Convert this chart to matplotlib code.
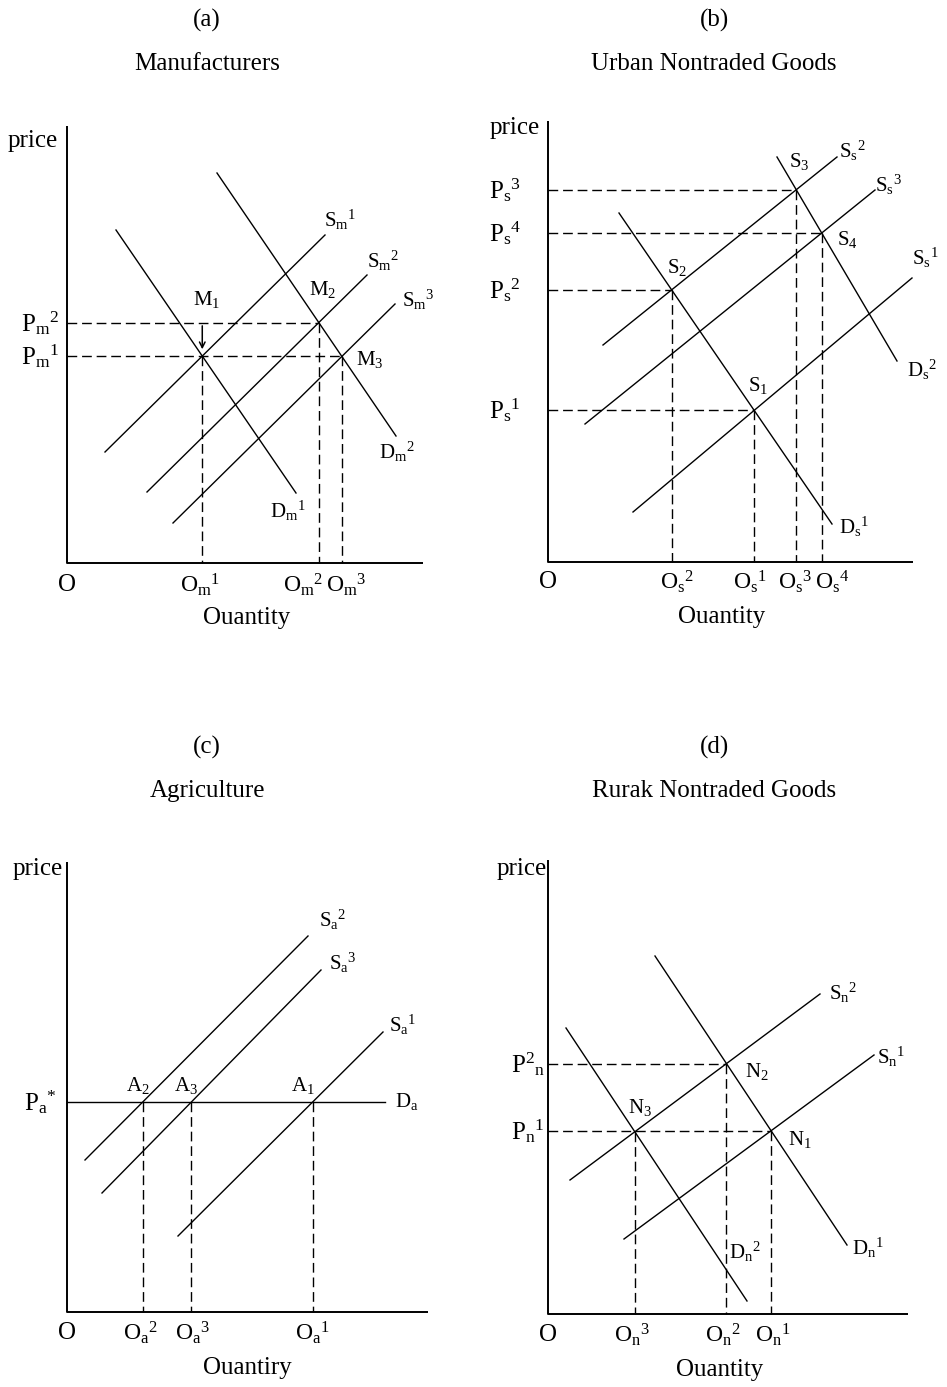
import numpy as np
import matplotlib.pyplot as plt

plt.rcParams['font.family'] = ['Liberation Serif', 'DejaVu Serif']
plt.rcParams['mathtext.fontset'] = 'custom'
plt.rcParams['mathtext.rm'] = 'Liberation Serif'
plt.rcParams['mathtext.it'] = 'Liberation Serif:italic'
plt.rcParams['mathtext.bf'] = 'Liberation Serif:bold'

W, H = 947, 1387

# curve ends as (quantity, price), arbitrary units
# (a) manufacturers
dm1 = [(49, 333), (229, 70)]
dm2 = [(150, 390), (329, 127)]
sm1 = [(38, 111), (258, 328)]
sm2 = [(80, 71), (300, 288)]
sm3 = [(106, 40), (328, 259)]

# (b) urban nontraded goods
ds1 = [(71, 349), (284, 38)]
ds2 = [(229, 405), (349, 201)]
ss1 = [(85, 50), (364, 284)]
ss2 = [(55, 217), (289, 405)]
ss3 = [(37, 138), (327, 372)]

# (c) agriculture
pa_star = 210
da = [(0, pa_star), (318, pa_star)]
sa1 = [(111, 76), (316, 280)]
sa2 = [(18, 152), (241, 376)]
sa3 = [(35, 119), (254, 342)]

# (d) rural nontraded goods
dn1 = [(107, 358), (299, 69)]
dn2 = [(18, 286), (199, 13)]
sn1 = [(76, 75), (326, 259)]
sn2 = [(22, 134), (272, 320)]

titles = [('(a)', 'Manufacturers'), ('(b)', 'Urban Nontraded Goods'),
          ('(c)', 'Agriculture'), ('(d)', 'Rurak Nontraded Goods')]


def cross(l1, l2):
    (x1, y1), (x2, y2) = l1
    (x3, y3), (x4, y4) = l2
    a = np.array([[x2 - x1, -(x4 - x3)], [y2 - y1, -(y4 - y3)]], float)
    b = np.array([x3 - x1, y3 - y1], float)
    t, _ = np.linalg.solve(a, b)
    return x1 + t * (x2 - x1), y1 + t * (y2 - y1)


fig = plt.figure(figsize=(W / 100, H / 100), dpi=100)
fig.patch.set_facecolor('white')

BIG = 18
TICK = 17
SMALL = 15
LW = 1.0


def panel(x0, x1, y0, y1, ox, oy, qmax, pmax):
    ax = fig.add_axes([x0 / W, 1 - y1 / H, (x1 - x0) / W, (y1 - y0) / H])
    ax.set_xlim(x0 - ox, x1 - ox)
    ax.set_ylim(oy - y1, oy - y0)
    ax.axis('off')
    ax.plot([0, 0, qmax], [pmax, 0, 0], color='k', lw=1.4,
            solid_capstyle='butt')
    return ax


def curve(ax, line):
    ax.plot([line[0][0], line[1][0]], [line[0][1], line[1][1]],
            color='k', lw=LW)


def dash(ax, xs, ys):
    ax.plot(xs, ys, color='k', lw=LW, dashes=(7, 3.5))


def lab(ax, q, p, s, size=SMALL):
    ax.text(q, p, s, fontsize=size, ha='center', va='center', clip_on=False)


# titles
for (tag, name), (cx, cy) in zip(titles, [(207, 20), (714, 20), (207, 747), (714, 747)]):
    fig.text(cx / W, 1 - cy / H, tag, fontsize=BIG, ha='center', va='center')
    fig.text(cx / W, 1 - (cy + 44) / H, name, fontsize=BIG, ha='center', va='center')

# ---- (a) ----
ax = panel(0, 473, 100, 640, 67, 563, 356, 437)
for l in [dm1, dm2, sm1, sm2, sm3]:
    curve(ax, l)
m1 = cross(dm1, sm1)
m2 = cross(dm2, sm2)
m3 = cross(dm2, sm3)
dash(ax, [0, m3[0]], [m1[1], m1[1]])
dash(ax, [0, m2[0]], [m2[1], m2[1]])
for m in [m1, m2, m3]:
    dash(ax, [m[0], m[0]], [m[1], 0])
ax.annotate('', xy=(m1[0], m1[1] + 4), xytext=(m1[0], m1[1] + 33),
            arrowprops=dict(arrowstyle='->', color='k', lw=1.1))
lab(ax, -34, 422, 'price', BIG)
lab(ax, -27, m2[1], r'$\mathrm{P_m}^{2}$', BIG)
lab(ax, -27, m1[1], r'$\mathrm{P_m}^{1}$', BIG)
lab(ax, 0, -22, 'O', BIG)
lab(ax, 133, -22, r'$\mathrm{O_m}^{1}$', TICK)
lab(ax, 236, -22, r'$\mathrm{O_m}^{2}$', TICK)
lab(ax, 279, -22, r'$\mathrm{O_m}^{3}$', TICK)
lab(ax, 180, -55, 'Ouantity', BIG)
lab(ax, 273, 343, r'$\mathrm{S_m}^{1}$')
lab(ax, 316, 302, r'$\mathrm{S_m}^{2}$')
lab(ax, 351, 263, r'$\mathrm{S_m}^{3}$')
lab(ax, 140, 263, r'$\mathrm{M_1}$')
lab(ax, 256, 273, r'$\mathrm{M_2}$')
lab(ax, 303, 203, r'$\mathrm{M_3}$')
lab(ax, 330, 111, r'$\mathrm{D_m}^{2}$')
lab(ax, 221, 52, r'$\mathrm{D_m}^{1}$')

# ---- (b) ----
ax = panel(473, 947, 100, 640, 548, 562, 365, 441)
for l in [ds1, ds2, ss1, ss2, ss3]:
    curve(ax, l)
s1 = cross(ds1, ss1)
s2 = cross(ds1, ss2)
s3 = cross(ds2, ss2)
s4 = cross(ds2, ss3)
for s in [s1, s2, s3, s4]:
    dash(ax, [0, s[0]], [s[1], s[1]])
    dash(ax, [s[0], s[0]], [s[1], 0])
lab(ax, -33, 434, 'price', BIG)
for s, k in [(s1, 1), (s2, 2), (s3, 3), (s4, 4)]:
    lab(ax, -43, s[1], r'$\mathrm{P_s}^{%d}$' % k, BIG)
lab(ax, 0, -20, 'O', BIG)
lab(ax, 129, -20, r'$\mathrm{O_s}^{2}$', TICK)
lab(ax, 202, -20, r'$\mathrm{O_s}^{1}$', TICK)
lab(ax, 247, -20, r'$\mathrm{O_s}^{3}$', TICK)
lab(ax, 284, -20, r'$\mathrm{O_s}^{4}$', TICK)
lab(ax, 174, -55, 'Ouantity', BIG)
lab(ax, 304, 411, r'$\mathrm{S_s}^{2}$')
lab(ax, 340, 377, r'$\mathrm{S_s}^{3}$')
lab(ax, 377, 304, r'$\mathrm{S_s}^{1}$')
lab(ax, 251, 400, r'$\mathrm{S_3}$')
lab(ax, 299, 323, r'$\mathrm{S_4}$')
lab(ax, 129, 294, r'$\mathrm{S_2}$')
lab(ax, 210, 177, r'$\mathrm{S_1}$')
lab(ax, 374, 192, r'$\mathrm{D_s}^{2}$')
lab(ax, 306, 35, r'$\mathrm{D_s}^{1}$')

# ---- (c) ----
ax = panel(0, 473, 820, 1387, 67, 1312, 361, 450)
for l in [da, sa1, sa2, sa3]:
    curve(ax, l)
a1 = cross(da, sa1)
a2 = cross(da, sa2)
a3 = cross(da, sa3)
for a in [a1, a2, a3]:
    dash(ax, [a[0], a[0]], [a[1], 0])
lab(ax, -29, 443, 'price', BIG)
lab(ax, -27, pa_star, r'$\mathrm{P_a}^{*}$', BIG)
lab(ax, 0, -21, 'O', BIG)
lab(ax, 73, -21, r'$\mathrm{O_a}^{2}$', TICK)
lab(ax, 125, -21, r'$\mathrm{O_a}^{3}$', TICK)
lab(ax, 245, -21, r'$\mathrm{O_a}^{1}$', TICK)
lab(ax, 180, -56, 'Ouantiry', BIG)
lab(ax, 266, 392, r'$\mathrm{S_a}^{2}$')
lab(ax, 276, 349, r'$\mathrm{S_a}^{3}$')
lab(ax, 336, 287, r'$\mathrm{S_a}^{1}$')
lab(ax, 340, pa_star, r'$\mathrm{D_a}$')
lab(ax, a2[0] - 5, 227, r'$\mathrm{A_2}$')
lab(ax, a3[0] - 5, 227, r'$\mathrm{A_3}$')
lab(ax, a1[0] - 10, 227, r'$\mathrm{A_1}$')

# ---- (d) ----
ax = panel(473, 947, 820, 1387, 548, 1314, 360, 454)
for l in [dn1, dn2, sn1, sn2]:
    curve(ax, l)
n1 = cross(dn1, sn1)
n2 = cross(dn1, sn2)
n3 = cross(dn2, sn2)
dash(ax, [0, n1[0]], [n1[1], n1[1]])
dash(ax, [0, n2[0]], [n2[1], n2[1]])
for n in [n1, n2, n3]:
    dash(ax, [n[0], n[0]], [n[1], 0])
lab(ax, -26, 445, 'price', BIG)
lab(ax, -20, n2[1], r'$\mathrm{{P^2}_n}$', BIG)
lab(ax, -20, n1[1], r'$\mathrm{P_n}^{1}$', BIG)
lab(ax, 0, -21, 'O', BIG)
lab(ax, 84, -21, r'$\mathrm{O_n}^{3}$', TICK)
lab(ax, 175, -21, r'$\mathrm{O_n}^{2}$', TICK)
lab(ax, 225, -21, r'$\mathrm{O_n}^{1}$', TICK)
lab(ax, 172, -56, 'Ouantity', BIG)
lab(ax, 295, 321, r'$\mathrm{S_n}^{2}$')
lab(ax, 343, 257, r'$\mathrm{S_n}^{1}$')
lab(ax, 209, 242, r'$\mathrm{N_2}$')
lab(ax, 92, 207, r'$\mathrm{N_3}$')
lab(ax, 252, 174, r'$\mathrm{N_1}$')
lab(ax, 320, 66, r'$\mathrm{D_n}^{1}$')
lab(ax, 197, 62, r'$\mathrm{D_n}^{2}$')

fig.savefig('out.png', dpi=100, facecolor='white')
